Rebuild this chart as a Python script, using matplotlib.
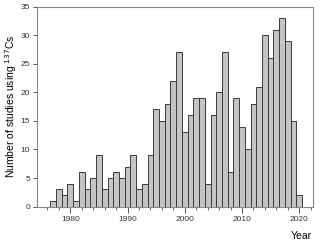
import numpy as np
import matplotlib
matplotlib.use('Agg')
import matplotlib.pyplot as plt
from matplotlib.ticker import MultipleLocator

# 每年使用137Cs的研究数量
years = list(range(1977, 2021))
counts = [1, 3, 2, 4, 1, 6, 3, 5, 9, 3,
          5, 6, 5, 7, 9, 3, 4, 9, 17, 15,
          18, 22, 27, 13, 16, 19, 19, 4, 16, 20,
          27, 6, 19, 14, 10, 18, 21, 30, 26, 31,
          33, 29, 15, 2]

plt.rcParams['font.family'] = ['Liberation Sans', 'DejaVu Sans']

fig = plt.figure(figsize=(3.2, 2.48), dpi=100)
ax = fig.add_axes([0.116, 0.167, 0.862, 0.806])

ax.bar(years, counts, width=1.0, color='#c4c4c4', edgecolor='#3a3a3a', linewidth=0.7)

ax.set_xlim(1974.2, 2022.4)
ax.set_ylim(0, 35)
ax.xaxis.set_major_locator(MultipleLocator(10))
ax.xaxis.set_minor_locator(MultipleLocator(2))
ax.yaxis.set_major_locator(MultipleLocator(5))

ax.tick_params(axis='x', which='major', length=4, width=0.7, labelsize=6, pad=3,
               color='#555555', labelcolor='#333333')
ax.tick_params(axis='x', which='minor', length=2, width=0.6, color='#555555')
ax.tick_params(axis='y', which='major', length=3, width=0.7, labelsize=6, pad=2,
               color='#555555', labelcolor='#333333')

for s in ax.spines.values():
    s.set_color('#888888')
    s.set_linewidth(0.8)

ax.set_ylabel('Number of studies using $^{137}$Cs', fontsize=7.5, labelpad=1)
fig.text(0.975, 0.03, 'Year', ha='right', va='bottom', fontsize=7.5)

fig.savefig('out.png', dpi=100)
